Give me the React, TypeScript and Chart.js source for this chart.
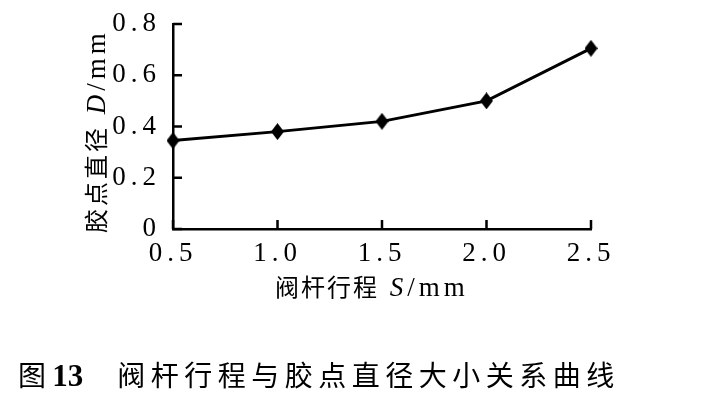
import React, { useEffect, useRef } from "react";
import { Chart, registerables } from "chart.js";

Chart.register(...registerables);

const strokeS: number[] = [0.5, 1.0, 1.5, 2.0, 2.5];
const dotD: number[] = [0.345, 0.38, 0.42, 0.5, 0.705];
const xTickValues: number[] = [0.5, 1.0, 1.5, 2.0, 2.5];
const yTickValues: number[] = [0, 0.2, 0.4, 0.6, 0.8];
const xTitleCJK = "阀杆行程";
const xTitleVar = "S";
const yTitleCJK = "胶点直径";
const yTitleVar = "D";
const unitText = "/mm";
const captionLabel = "图";
const captionNo = "13";
const captionText = "阀杆行程与胶点直径大小关系曲线";

const FONT = "'Liberation Serif', 'Noto Sans CJK SC', serif";

const spacingPlugin = {
  id: "spacing",
  beforeUpdate(chart: any) {
    chart.ctx.letterSpacing = "5px";
  },
  beforeLayout(chart: any) {
    chart.ctx.letterSpacing = "5px";
  },
  beforeDraw(chart: any) {
    chart.ctx.letterSpacing = "5px";
  },
};

const innerTicks = {
  id: "innerTicks",
  afterDraw(chart: any) {
    const { ctx, chartArea, scales } = chart;
    ctx.save();
    ctx.strokeStyle = "#000";
    ctx.lineWidth = 2.5;
    ctx.beginPath();
    yTickValues.forEach((v) => {
      const y = scales.y.getPixelForValue(v);
      ctx.moveTo(chartArea.left, y);
      ctx.lineTo(chartArea.left + 9, y);
    });
    xTickValues.forEach((v) => {
      const x = scales.x.getPixelForValue(v);
      ctx.moveTo(x, chartArea.bottom);
      ctx.lineTo(x, chartArea.bottom - 9);
    });
    ctx.stroke();
    ctx.restore();
  },
};

function makeDiamond(): HTMLCanvasElement {
  const c = document.createElement("canvas");
  c.width = 13;
  c.height = 17;
  const g = c.getContext("2d")!;
  g.fillStyle = "#000";
  g.beginPath();
  g.moveTo(6.5, 0);
  g.lineTo(13, 8.5);
  g.lineTo(6.5, 17);
  g.lineTo(0, 8.5);
  g.closePath();
  g.fill();
  return c;
}

export default function App() {
  const ref = useRef<HTMLCanvasElement | null>(null);

  useEffect(() => {
    if (!ref.current) return;
    const diamond = makeDiamond();
    const chart = new Chart(ref.current, {
      type: "line",
      data: {
        datasets: [
          {
            data: strokeS.map((x, i) => ({ x, y: dotD[i] })),
            borderColor: "#000",
            backgroundColor: "#000",
            borderWidth: 3,
            pointStyle: diamond,
            pointRadius: 7,
            tension: 0,
            clip: false,
          },
        ],
      },
      options: {
        animation: false,
        responsive: false,
        devicePixelRatio: 1,
        layout: { padding: { left: 0, right: 111, top: 24, bottom: 130 } },
        plugins: {
          legend: { display: false },
          tooltip: { enabled: false },
        },
        scales: {
          x: {
            type: "linear",
            min: 0.5,
            max: 2.5,
            afterBuildTicks: (scale: any) => {
              scale.ticks = xTickValues.map((v) => ({ value: v }));
            },
            afterFit: (scale: any) => {
              scale.height = 46;
            },
            grid: { display: false },
            border: { display: true, color: "#000", width: 2.5 },
            ticks: {
              color: "#000",
              padding: 1,
              maxRotation: 0,
              autoSkip: false,
              font: { family: FONT, size: 27 },
              callback: (v: any) => Number(v).toFixed(1),
            },
          },
          y: {
            type: "linear",
            min: 0,
            max: 0.8,
            afterBuildTicks: (scale: any) => {
              scale.ticks = yTickValues.map((v) => ({ value: v }));
            },
            afterFit: (scale: any) => {
              scale.width = 173;
            },
            grid: { display: false },
            border: { display: true, color: "#000", width: 2.5 },
            ticks: {
              color: "#000",
              padding: 4,
              autoSkip: false,
              font: { family: FONT, size: 27 },
              callback: (v: any) => (Number(v) === 0 ? "0" : Number(v).toFixed(1)),
            },
          },
        },
      },
      plugins: [spacingPlugin, innerTicks],
    } as any);
    return () => chart.destroy();
  }, []);

  const latin = { fontFamily: "'Liberation Serif', serif", letterSpacing: 4, fontSize: 27 };

  return (
    <div style={{ position: "absolute", left: 0, top: 0, width: 702, height: 405, background: "#fff", overflow: "hidden" }}>
      <canvas ref={ref} width={702} height={405} style={{ display: "block", width: 702, height: 405 }} />
      <div
        style={{
          position: "absolute",
          left: 172,
          width: 400,
          top: 272,
          textAlign: "center",
          fontFamily: "'Noto Sans CJK SC', sans-serif",
          fontSize: 24,
          lineHeight: "28px",
          color: "#000",
          whiteSpace: "nowrap",
        }}
      >
        <span style={{ letterSpacing: 2 }}>{xTitleCJK}</span>
        <span style={latin}>
          {" "}
          <i>{xTitleVar}</i>
          {unitText}
        </span>
      </div>
      <div
        style={{
          position: "absolute",
          left: 95 - 115,
          width: 230,
          top: 131 - 14,
          height: 28,
          transform: "rotate(-90deg)",
          transformOrigin: "50% 50%",
          textAlign: "center",
          fontFamily: "'Noto Sans CJK SC', sans-serif",
          fontSize: 24,
          lineHeight: "28px",
          color: "#000",
          whiteSpace: "nowrap",
        }}
      >
        <span style={{ letterSpacing: 3 }}>{yTitleCJK}</span>
        <span style={latin}>
          {" "}
          <i>{yTitleVar}</i>
          {unitText}
        </span>
      </div>
      <div
        style={{
          position: "absolute",
          left: 18,
          top: 356,
          fontFamily: "'Noto Sans CJK SC', sans-serif",
          fontSize: 28,
          lineHeight: "36px",
          color: "#000",
          whiteSpace: "nowrap",
        }}
      >
        <span>{captionLabel} </span>
        <span style={{ fontFamily: "'Liberation Serif', serif", fontWeight: "bold", fontSize: 31 }}>{captionNo}</span>
        <span style={{ display: "inline-block", width: 34 }} />
        <span style={{ letterSpacing: 5.5 }}>{captionText}</span>
      </div>
    </div>
  );
}
